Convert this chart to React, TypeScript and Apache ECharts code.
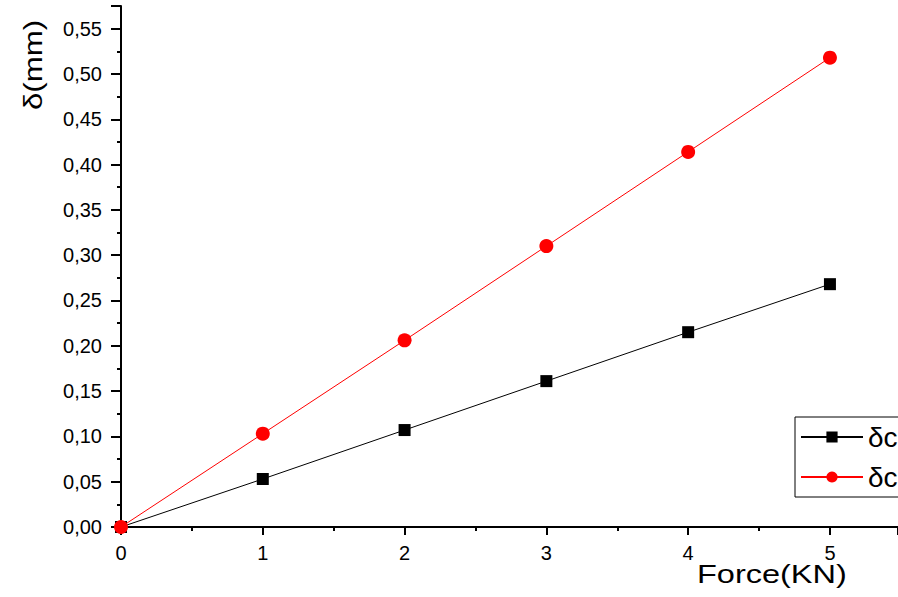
import React, { useEffect, useRef } from "react";
import * as echarts from "echarts";

const forces = [0, 1, 2, 3, 4, 5];
const deltaBlack = [0, 0.053, 0.107, 0.161, 0.215, 0.268];
const deltaRed = [0, 0.103, 0.206, 0.31, 0.414, 0.518];
const seriesNames = ["δcalc", "δcexp"];

export default function App() {
  const ref = useRef<HTMLDivElement>(null);
  useEffect(() => {
    document.body.style.margin = "0";
    const chart = echarts.init(ref.current!, undefined, { renderer: "svg" });
    const font = "Liberation Sans, Arial, sans-serif";
    chart.setOption({
      animation: false,
      backgroundColor: "#fff",
      grid: { left: 121, top: 6, right: 0, bottom: 70, containLabel: false },
      xAxis: {
        type: "value",
        min: 0,
        max: 5.48,
        interval: 1,
        axisLine: { lineStyle: { color: "#000", width: 2 } },
        axisTick: { inside: false, length: 8, lineStyle: { color: "#000", width: 2 } },
        minorTick: { show: true, splitNumber: 2, length: 4, lineStyle: { color: "#000", width: 2 } },
        splitLine: { show: false },
        axisLabel: {
          color: "#000",
          fontFamily: font,
          fontSize: 20,
          margin: 16,
          showMaxLabel: false,
          formatter: (v: number) => (Number.isInteger(v) ? String(v) : ""),
        },
      },
      yAxis: {
        type: "value",
        min: 0,
        max: 0.575,
        interval: 0.05,
        axisLine: { lineStyle: { color: "#000", width: 2 } },
        axisTick: { inside: false, length: 10, lineStyle: { color: "#000", width: 2 } },
        minorTick: { show: true, splitNumber: 2, length: 4, lineStyle: { color: "#000", width: 2 } },
        splitLine: { show: false },
        axisLabel: {
          color: "#000",
          fontFamily: font,
          fontSize: 20,
          margin: 19,
          showMaxLabel: false,
          formatter: (v: number) => v.toFixed(2).replace(".", ","),
        },
      },
      legend: {
        orient: "vertical",
        left: 795,
        top: 417,
        padding: [6, 6, 6, 5],
        itemGap: 12,
        itemWidth: 62,
        itemHeight: 14,
        borderColor: "#000",
        borderWidth: 1,
        borderRadius: 0,
        textStyle: { color: "#000", fontFamily: font, fontSize: 28 },
        data: seriesNames,
      },
      graphic: [
        {
          type: "text",
          x: 697,
          y: 561,
          scaleX: 1.25,
          style: { text: "Force(KN)", fontFamily: font, fontSize: 26, fill: "#000" },
        },
        {
          type: "text",
          x: 20,
          y: 110,
          rotation: Math.PI / 2,
          scaleX: 1.2,
          style: { text: "δ(mm)", fontFamily: font, fontSize: 26, fill: "#000" },
        },
      ],
      series: [
        {
          name: seriesNames[0],
          type: "line",
          data: forces.map((f, i) => [f, deltaBlack[i]]),
          symbol: "rect",
          symbolSize: 12,
          lineStyle: { color: "#000", width: 1 },
          itemStyle: { color: "#000" },
        },
        {
          name: seriesNames[1],
          type: "line",
          data: forces.map((f, i) => [f, deltaRed[i]]),
          symbol: "circle",
          symbolSize: 14,
          lineStyle: { color: "#ff0000", width: 1 },
          itemStyle: { color: "#ff0000" },
        },
      ],
    });
    return () => chart.dispose();
  }, []);
  return <div ref={ref} style={{ width: 898, height: 597 }} />;
}
